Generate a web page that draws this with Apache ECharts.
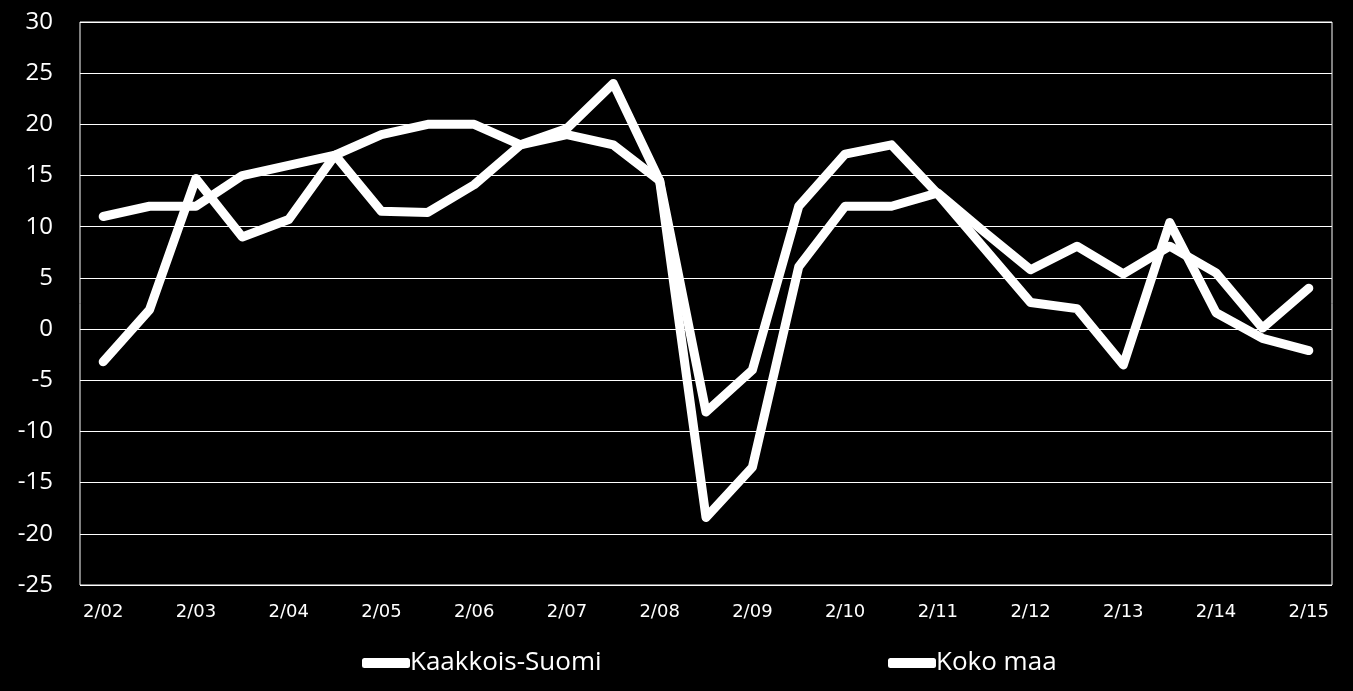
<!DOCTYPE html>
<html>
<head>
<meta charset="utf-8">
<script src="https://cdn.jsdelivr.net/npm/echarts@6/dist/echarts.min.js"></script>
<style>
  html, body { margin: 0; padding: 0; background: #000; }
  #chart { width: 1353px; height: 691px; }
</style>
</head>
<body>
<div id="chart"></div>
<script>
// half-year points, labelled every second one
var categories = ['2/02', '8/02', '2/03', '8/03', '2/04', '8/04', '2/05', '8/05', '2/06', '8/06',
  '2/07', '8/07', '2/08', '8/08', '2/09', '8/09', '2/10', '8/10', '2/11', '8/11',
  '2/12', '8/12', '2/13', '8/13', '2/14', '8/14', '2/15'];

var kaakkoisSuomi = [-3.2, 1.9, 14.7, 9.0, 10.7, 17.0, 11.5, 11.4, 14.1, 18.0,
  19.6, 24.0, 14.5, -18.4, -13.5, 6.1, 12.0, 12.0, 13.3, 9.5,
  5.8, 8.1, 5.4, 8.1, 5.5, 0.1, 4.0];

var kokoMaa = [11.0, 12.0, 12.0, 15.0, 16.0, 17.0, 19.0, 20.0, 20.0, 18.0,
  19.0, 18.0, 14.5, -8.1, -4.0, 12.0, 17.1, 18.0, 13.2, 7.9,
  2.6, 2.0, -3.5, 10.4, 1.6, -0.9, -2.1];

var seriesNames = ['Kaakkois-Suomi', 'Koko maa'];

var chart = echarts.init(document.getElementById('chart'));

function makeLegend(name, left) {
  return {
    data: [name],
    left: left,
    top: 645,
    icon: 'roundRect',
    itemWidth: 48,
    itemHeight: 10,
    selectedMode: false,
    textStyle: {
      color: '#fff',
      fontFamily: 'Open Sans',
      fontSize: 26,
      padding: [0, 0, 0, -5]
    }
  };
}

function makeLine(name, values) {
  return {
    name: name,
    type: 'line',
    data: values,
    symbol: 'none',
    color: '#fff',
    lineStyle: { width: 9, color: '#fff', cap: 'round', join: 'round' }
  };
}

var option = {
  backgroundColor: '#000',
  animation: false,
  legend: [makeLegend(seriesNames[0], 357), makeLegend(seriesNames[1], 883)],
  grid: {
    left: 80,
    right: 21,
    top: 22,
    bottom: 106,
    show: true,
    borderColor: '#fff',
    borderWidth: 1
  },
  xAxis: {
    type: 'category',
    data: categories,
    boundaryGap: true,
    axisLine: { show: false },
    axisTick: { show: false },
    splitLine: { show: false },
    axisLabel: {
      interval: 1,
      color: '#fff',
      fontFamily: 'DejaVu Sans',
      fontSize: 18,
      margin: 18
    }
  },
  yAxis: {
    type: 'value',
    min: -25,
    max: 30,
    interval: 5,
    axisLine: { show: false },
    axisTick: { show: false },
    splitLine: { show: true, lineStyle: { color: '#fff', width: 1 } },
    axisLabel: {
      color: '#fff',
      fontFamily: 'Open Sans',
      fontSize: 24,
      margin: 27
    }
  },
  series: [makeLine(seriesNames[0], kaakkoisSuomi), makeLine(seriesNames[1], kokoMaa)]
};

chart.setOption(option);
</script>
</body>
</html>
